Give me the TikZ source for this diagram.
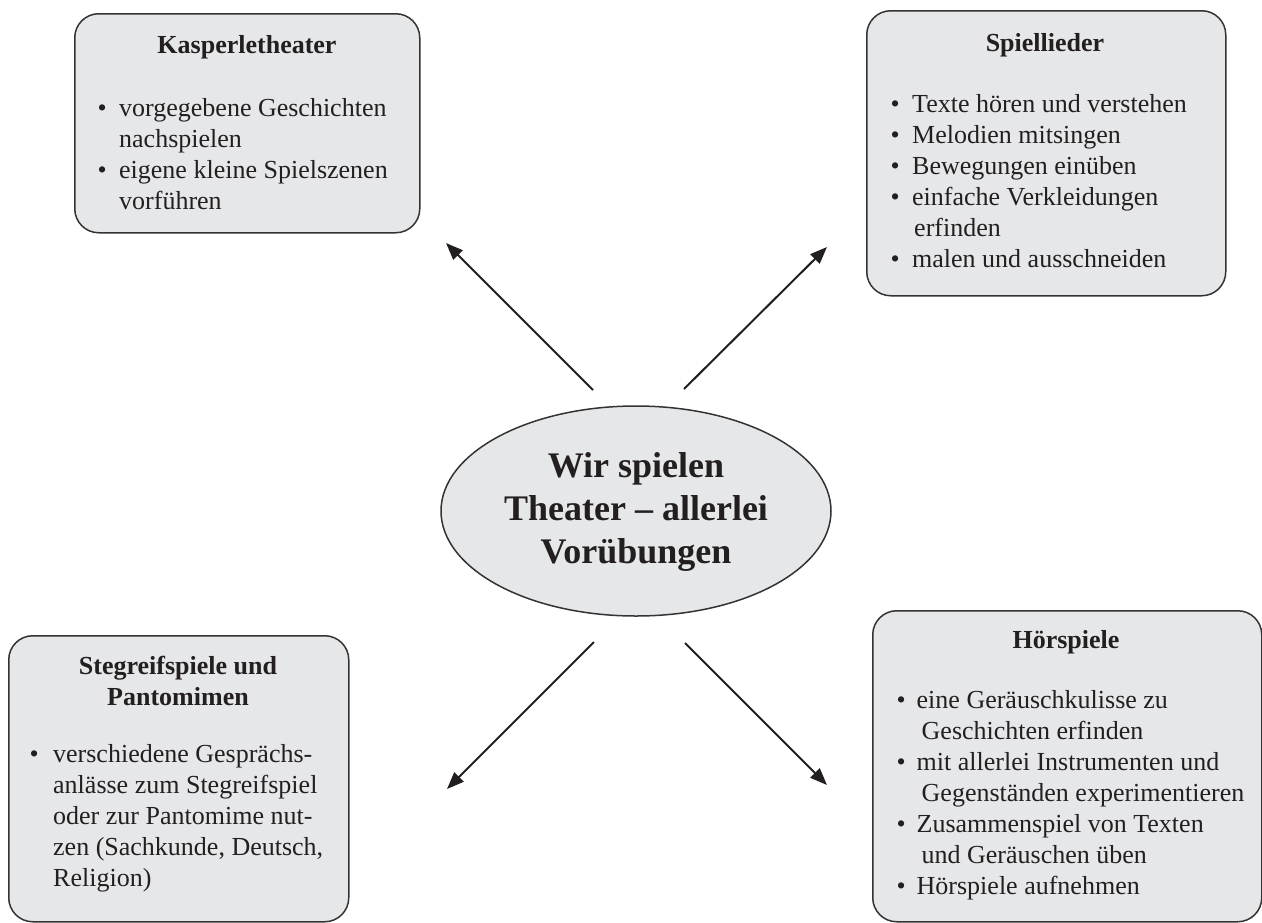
\documentclass[tikz,border=0pt]{standalone}
\usepackage{fontspec}
\setmainfont{Liberation Serif}
\usetikzlibrary{arrows.meta,shapes.geometric}
\definecolor{boxfill}{HTML}{E6E7E9}
\definecolor{boxline}{HTML}{333333}
\definecolor{inkcol}{HTML}{231F20}
\newlength\bulw
\setlength\bulw{21.5pt}
\newcommand\bul{\makebox[\bulw][l]{•}}
\begin{document}
\begin{tikzpicture}[x=1pt,y=-1pt,
  panel/.style={draw=boxline, line width=1.5pt, fill=boxfill, rounded corners=24pt,
    rectangle, anchor=north west, inner sep=0pt},
  hub/.style={draw=boxline, line width=1.5pt, fill=boxfill, ellipse, inner sep=0pt},
  body/.style={inner sep=0pt, anchor=base west, text=inkcol, font=\fontsize{26}{31}\selectfont},
  head/.style={inner sep=0pt, anchor=base, text=inkcol, font=\fontsize{26}{31}\selectfont\bfseries},
  bigtext/.style={inner sep=0pt, anchor=base, text=inkcol, font=\fontsize{36}{43}\selectfont\bfseries},
  link/.style={draw=inkcol, line width=2pt, -{Triangle[length=17pt,width=13pt]}}
]
\useasboundingbox (0,0) rectangle (1262,922);
\fill[white] (0,0) rectangle (1262,922);

% boxes
\node[panel, minimum width=345pt, minimum height=219pt] (kbox) at (74,13) {};
\node[panel, minimum width=359pt, minimum height=285pt] (sbox) at (866,10) {};
\node[panel, minimum width=340pt, minimum height=286pt] (gbox) at (8,635) {};
\node[panel, minimum width=389pt, minimum height=311pt] (hbox) at (872,610) {};

% centre ellipse
\node[hub, minimum width=390pt, minimum height=210pt] (hubnode) at (636,511) {};
\node[bigtext] (hubtext) at (636,477) {\begin{tabular}[t]{@{}c@{}}Wir spielen\\Theater – allerlei\\Vorübungen\end{tabular}};

% Kasperletheater
\node[head] (ktitle) at (247,53) {Kasperletheater};
\node[body] (klist) at (97.5,116) {\begin{tabular}[t]{@{}l@{}l@{}}
\bul & vorgegebene Geschichten\\
 & nachspielen\\
\bul & eigene kleine Spielszenen\\
 & vorführen
\end{tabular}};

% Spiellieder
\node[head] (stitle) at (1045,51) {Spiellieder};
\node[body] (slist) at (890.5,112) {\begin{tabular}[t]{@{}l@{}l@{}}
\bul & Texte hören und verstehen\\
\bul & Melodien mitsingen\\
\bul & Bewegungen einüben\\
\bul & einfache Verkleidungen\\
 & \hspace{2pt}erfinden\\
\bul & malen und ausschneiden
\end{tabular}};

% Stegreifspiele
\node[head] (gtitle) at (178,674) {\begin{tabular}[t]{@{}c@{}}Stegreifspiele und\\Pantomimen\end{tabular}};
\node[body] (glist) at (29.5,762) {\setlength\bulw{23.5pt}\begin{tabular}[t]{@{}l@{}l@{}}
\bul & verschiedene Gesprächs-\\
 & anlässe zum Stegreifspiel\\
 & oder zur Pantomime nut-\\
 & zen (Sachkunde, Deutsch,\\
 & Religion)
\end{tabular}};

% Hoerspiele
\node[head] (htitle) at (1066,648) {Hörspiele};
\node[body] (hlist) at (896.5,708) {\setlength\bulw{20pt}\begin{tabular}[t]{@{}l@{}l@{}}
\bul & eine Geräuschkulisse zu\\
 & \hspace{5pt}Geschichten erfinden\\
\bul & mit allerlei Instrumenten und\\
 & \hspace{5pt}Gegenständen experimentieren\\
\bul & Zusammenspiel von Texten\\
 & \hspace{5pt}und Geräuschen üben\\
\bul & Hörspiele aufnehmen
\end{tabular}};

% arrow end points
\coordinate (a1s) at (593,390); \coordinate (a1e) at (446,243);
\coordinate (a2s) at (684,389); \coordinate (a2e) at (827,247);
\coordinate (a3s) at (594,642); \coordinate (a3e) at (447,789);
\coordinate (a4s) at (685,643); \coordinate (a4e) at (827,785);
\draw[link] (a1s) -- (a1e);
\draw[link] (a2s) -- (a2e);
\draw[link] (a3s) -- (a3e);
\draw[link] (a4s) -- (a4e);
\end{tikzpicture}
\end{document}
